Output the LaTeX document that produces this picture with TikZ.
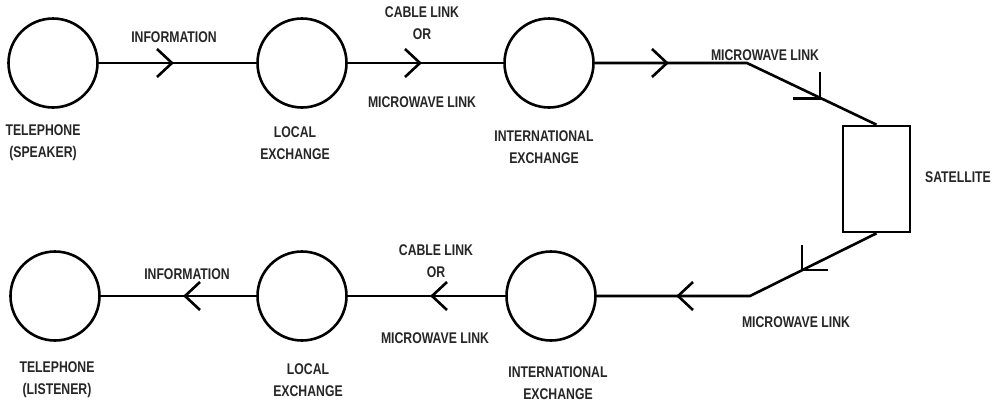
\documentclass[tikz,border=0pt]{standalone}
\usepackage{fontspec}
\setmainfont{Liberation Sans}[FakeStretch=0.79]
\begin{document}
\begin{tikzpicture}[x=1pt,y=-1pt,
  station/.style={draw,circle,line width=2.6pt,minimum size=89pt,inner sep=0pt},
  sat/.style={draw,rectangle,line width=2.6pt,minimum width=67pt,minimum height=106pt,inner sep=0pt},
  link/.style={line width=2.6pt},
  lbl/.style={font=\fontsize{15.5}{22}\selectfont\bfseries,align=center,inner sep=0pt,text=black!85},
  chevR/.pic={\draw[line width=2.6pt] (-15,-14) -- (0,0) -- (-15,14);},
  chevL/.pic={\draw[line width=2.6pt] (15,-14) -- (0,0) -- (15,14);}
]
\useasboundingbox (0,0) rectangle (999,405);
% top row
\node[station] (ts) at (53,63) {};
\node[station] (tl) at (302,63) {};
\node[station] (ti) at (549,63) {};
\node[sat] (s) at (876.5,179) {};
\coordinate (tb) at (747,63);
\draw[link] (ts) -- (tl);
\draw[link] (tl) -- (ti);
\draw[link] (ti) -- (tb) -- (s.north);
\pic at (172,63) {chevR};
\pic at (420,63) {chevR};
\pic at (667,63) {chevR};
\coordinate (ta) at (820,98.5);
\draw[link] (ta |- 0,72) -- (ta) -- (793,98.5);
% bottom row
\node[station] (bs) at (55,296) {};
\node[station] (bl) at (302,296) {};
\node[station] (bi) at (551,296) {};
\coordinate (bb) at (750,296);
\draw[link] (s.south) -- (bb) -- (bi);
\draw[link] (bi) -- (bl);
\draw[link] (bl) -- (bs);
\pic at (185,296) {chevL};
\pic at (432,296) {chevL};
\pic at (678,296) {chevL};
\coordinate (ba) at (802,270);
\draw[link] (ba |- 0,245) -- (ba) -- (828,270);
% labels top
\node[lbl] (l1) at (174,37) {INFORMATION};
\node[lbl] (l2) at (422,23) {CABLE LINK\\OR};
\node[lbl] (l3) at (422,102) {MICROWAVE LINK};
\node[lbl] (l4) at (765,55) {MICROWAVE LINK};
\node[lbl] (l5) at (43,143) {TELEPHONE\\(SPEAKER)};
\node[lbl] (l6) at (295,143) {LOCAL\\EXCHANGE};
\node[lbl] (l7) at (544,147) {INTERNATIONAL\\EXCHANGE};
\node[lbl] (l8) at (958,177) {SATELLITE};
% labels bottom
\node[lbl] (m1) at (187,274) {INFORMATION};
\node[lbl] (m2) at (436,261) {CABLE LINK\\OR};
\node[lbl] (m3) at (435,338) {MICROWAVE LINK};
\node[lbl] (m4) at (796,322) {MICROWAVE LINK};
\node[lbl] (m5) at (57,380) {TELEPHONE\\(LISTENER)};
\node[lbl] (m6) at (308,380) {LOCAL\\EXCHANGE};
\node[lbl] (m7) at (558,383) {INTERNATIONAL\\EXCHANGE};
\end{tikzpicture}
\end{document}
